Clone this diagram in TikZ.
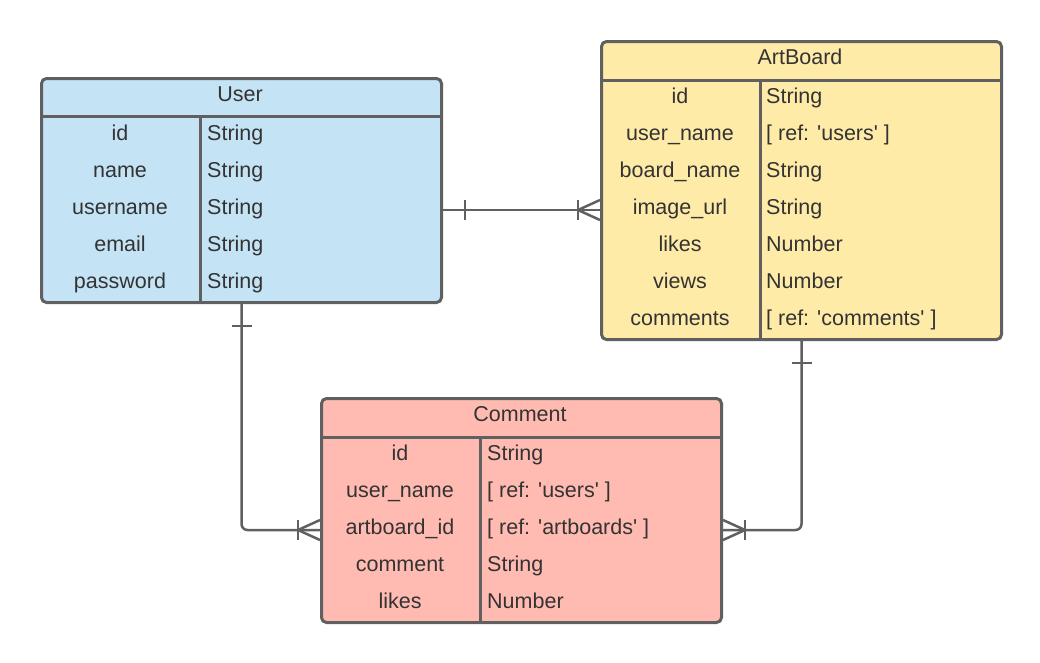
\documentclass[tikz,border=0pt]{standalone}
\usepackage{fontspec}
\setmainfont{Liberation Sans}
\usepackage{tikz}
\usetikzlibrary{calc}
\definecolor{userBlue}{HTML}{C4E4F6}
\definecolor{artYellow}{HTML}{FFEBA8}
\definecolor{commentRed}{HTML}{FFBBB1}
\definecolor{edgeGray}{HTML}{606060}
\definecolor{inkGray}{HTML}{333333}
\tikzset{
	entity/.style={draw=edgeGray, line width=3pt, rounded corners=5pt, anchor=north west, minimum width=400pt, inner sep=0pt},
	entityline/.style={draw=edgeGray, line width=3pt},
	title/.style={anchor=base, inner sep=0pt, text=inkGray},
	field/.style={anchor=base, inner sep=0pt, text=inkGray},
	ftype/.style={anchor=base west, inner sep=0pt, text=inkGray},
	rel/.style={draw=edgeGray, line width=2.5pt},
}
\newcommand{\q}{\textquotesingle}

\begin{document}
\begin{tikzpicture}[x=1pt, y=-1pt]
	\useasboundingbox (0,0) rectangle (1040,662);
	\fontsize{21.5}{26}\selectfont

	% tables
	\node[entity, fill=userBlue, minimum height=224pt] (user) at (40,77) {};
	\node[entity, fill=artYellow, minimum height=298pt] (artboard) at (600,40) {};
	\node[entity, fill=commentRed, minimum height=224pt] (comment) at (320,397) {};

	\draw[entityline] (user.west |- 0,116) -- (user.east |- 0,116);
	\draw[entityline] (200,116) -- (user.south -| 200,0);
	\draw[entityline] (artboard.west |- 0,80) -- (artboard.east |- 0,80);
	\draw[entityline] (760,80) -- (artboard.south -| 760,0);
	\draw[entityline] (comment.west |- 0,437) -- (comment.east |- 0,437);
	\draw[entityline] (480,437) -- (comment.south -| 480,0);

	\node[title] (user-title) at (240,101.5) {User};
	\node[title] (artboard-title) at (800,64.5) {ArtBoard};
	\node[title] (comment-title) at (520,421.5) {Comment};

	\foreach \f/\t [count=\i] in {id/String, name/String, username/String, email/String, password/String}{
		\node[field] (user-\i) at (120,{140+37*(\i-1)}) {\f};
		\node[ftype] (user-type-\i) at (207,{140+37*(\i-1)}) {\t};
	}
	\foreach \f/\t [count=\i] in {id/String, user\_name/{[ ref: \q users\q\ ]}, board\_name/String, image\_url/String, likes/Number, views/Number, comments/{[ ref: \q comments\q\ ]}}{
		\node[field] (artboard-\i) at (680,{103+37*(\i-1)}) {\f};
		\node[ftype] (artboard-type-\i) at (766,{103+37*(\i-1)}) {\t};
	}
	\foreach \f/\t [count=\i] in {id/String, user\_name/{[ ref: \q users\q\ ]}, artboard\_id/{[ ref: \q artboards\q\ ]}, comment/String, likes/Number}{
		\node[field] (comment-\i) at (400,{460+37*(\i-1)}) {\f};
		\node[ftype] (comment-type-\i) at (487,{460+37*(\i-1)}) {\t};
	}

	% relations
	\coordinate (u-art) at (user.east |- 0,210);
	\coordinate (a-user) at (artboard.west |- 0,210);
	\coordinate (c-user) at (comment.west |- 0,530);
	\coordinate (c-art) at (comment.east |- 0,530);

	\draw[rel] (u-art) -- (a-user);
	\draw[rel, rounded corners=6pt] (user.south) |- (c-user);
	\draw[rel, rounded corners=6pt] (artboard.south) |- (c-art);

	% one
	\draw[rel] ($(u-art)+(22,-10)$) -- ++(0,20);
	\draw[rel] ($(user.south)+(-10,22)$) -- ++(20,0);
	\draw[rel] ($(artboard.south)+(-10,22)$) -- ++(20,0);

	% many
	\draw[rel] ($(a-user)+(-22,-10)$) -- ++(0,20);
	\draw[rel] ($(a-user)+(0,-10)$) -- ($(a-user)+(-22,0)$) -- ($(a-user)+(0,10)$);
	\draw[rel] ($(c-user)+(-22,-10)$) -- ++(0,20);
	\draw[rel] ($(c-user)+(0,-10)$) -- ($(c-user)+(-22,0)$) -- ($(c-user)+(0,10)$);
	\draw[rel] ($(c-art)+(22,-10)$) -- ++(0,20);
	\draw[rel] ($(c-art)+(0,-10)$) -- ($(c-art)+(22,0)$) -- ($(c-art)+(0,10)$);
\end{tikzpicture}
\end{document}
